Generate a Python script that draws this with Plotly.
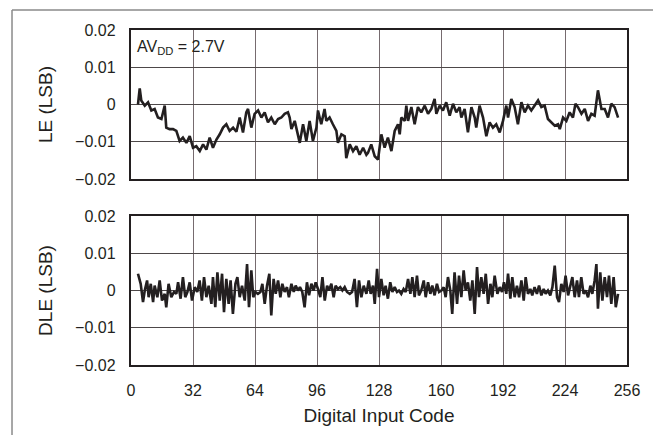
import plotly.graph_objects as go

# values in milli-LSB
LE_CODES = [
    3.6, 4.5, 5.3, 7.1, 8.8, 10.5, 12.2, 13.9, 15.7, 17.4, 18.2, 19.9, 21.7, 23.4, 25.1, 26.8,
    28.6, 30.3, 32.0, 33.7, 35.5, 37.2, 38.9, 40.6, 42.3, 44.1, 45.8, 47.5, 49.2, 50.9, 52.7, 54.4,
    56.1, 57.8, 59.5, 60.4, 62.1, 63.8, 65.6, 67.3, 69.0, 70.7, 72.4, 74.2, 75.9, 77.6, 79.3, 81.0,
    81.9, 82.8, 84.5, 86.2, 87.1, 88.8, 90.5, 92.2, 93.9, 95.7, 96.5, 98.2, 99.9, 100.8, 102.5, 104.2,
    106.0, 106.8, 108.6, 110.3, 111.1, 112.9, 114.6, 116.3, 118.0, 119.8, 121.5, 122.3, 124.0, 125.8,
    127.5, 128.3, 129.2, 130.9, 132.6, 134.4, 136.1, 137.8, 138.7, 139.5, 141.3, 142.1, 143.0, 144.7,
    146.4, 148.1, 149.8, 151.6, 153.3, 155.0, 156.7, 157.6, 159.3, 161.0, 162.7, 164.5, 166.2, 167.9,
    169.6, 170.5, 172.2, 173.9, 175.7, 177.4, 178.2, 179.9, 181.7, 183.4, 185.1, 186.8, 188.5, 190.3,
    192.0, 193.7, 194.6, 196.3, 198.0, 199.7, 201.5, 203.2, 204.9, 206.6, 208.4, 210.1, 211.8, 213.5,
    215.2, 217.0, 218.7, 220.4, 221.3, 223.0, 224.7, 226.4, 228.1, 229.4, 230.7, 232.5, 234.2, 235.9,
    237.6, 239.3, 241.0, 242.8, 244.5, 246.2, 247.9, 249.6, 251.4,
]
LE_MLSB = [
    0.0, 4.3, 1.1, -0.3, 0.6, -1.6, -1.2, -3.5, -3.9, -0.3, -6.2, -6.6, -6.6, -7.1, -9.8, -8.9,
    -10.3, -8.5, -11.6, -11.2, -12.5, -10.7, -12.1, -8.9, -11.6, -9.4, -8.0, -6.2, -5.3, -7.1, -6.2, -7.3,
    -3.5, -7.5, -2.1, -1.2, -6.2, -2.5, -1.6, -3.5, -2.1, -4.8, -3.5, -5.3, -3.9, -3.5, -2.5, -2.1,
    -3.5, -6.6, -4.4, -8.0, -10.3, -5.3, -9.8, -4.4, -9.8, -6.2, -1.6, -5.3, -1.2, -4.4, -3.5, -5.3,
    -7.1, -10.3, -8.0, -8.5, -14.4, -10.7, -12.5, -11.2, -13.5, -11.6, -13.5, -13.0, -10.7, -13.9,
    -14.8, -11.6, -8.0, -11.6, -8.9, -12.5, -7.1, -5.3, -8.0, -3.5, -4.4, -0.3, -4.4, -0.7,
    -5.3, -0.7, -2.1, -0.3, -2.5, -1.2, 1.5, -2.5, -0.3, -1.6, 0.6, -3.0, 0.2, -2.1,
    -0.7, -3.5, -1.2, -7.5, -0.7, -3.5, -6.2, -0.3, -3.5, -8.5, -4.8, -6.2, -5.3, -7.5,
    -4.4, -0.3, -3.5, 1.5, -0.7, -5.3, 0.6, -2.1, -0.3, -1.6, -0.3, 1.1, -0.7, -0.3,
    -3.9, -4.8, -5.7, -5.3, -6.6, -3.5, -4.4, -2.1, -3.5, 0.2, -0.7, -2.5, -1.2, -4.4,
    -2.5, -3.0, 3.8, -1.2, -1.2, -3.5, 0.2, -0.7, -3.5,
]

DLE_CODES = [
    3.6, 5.0, 6.2, 7.1, 8.3, 9.1, 10.2, 11.4, 12.2, 13.6, 14.8, 16.0, 17.4, 18.2, 19.4, 20.8,
    22.2, 23.4, 24.3, 25.6, 26.8, 28.0, 29.1, 30.3, 31.5, 32.9, 34.2, 35.4, 36.6, 37.7, 38.9, 40.1,
    41.5, 42.3, 43.5, 44.6, 45.8, 47.0, 48.0, 49.2, 50.4, 51.4, 52.6, 53.9,
    54.9, 56.1, 57.3, 58.7, 59.9, 60.9, 62.1, 63.1, 64.2, 65.5, 66.8, 67.8, 69.0, 70.2, 71.4, 72.4,
    73.6, 74.7, 75.9, 77.1, 78.1, 79.3, 80.5, 81.5, 82.8, 84.0, 85.0, 86.2, 87.2, 88.4, 89.6, 90.8,
    91.9, 93.1, 94.3, 95.3, 96.5, 97.7, 98.8, 100.0, 101.2, 102.2, 103.4, 104.6, 105.6, 106.8, 108.0,
    109.1, 110.3, 111.5, 112.9, 114.1, 115.4, 116.6, 117.7, 118.9, 120.1, 121.5,
    122.7, 123.7, 124.9, 125.8, 127.0, 128.0, 129.2, 130.4, 131.4, 132.6, 133.8, 134.9, 136.1, 137.3,
    138.3, 139.5, 140.7, 141.8, 143.0, 144.2, 145.2, 146.4, 147.6, 148.6, 149.8, 151.1, 152.1, 153.3,
    154.5, 155.5, 156.7, 157.9, 159.0, 160.2, 161.4, 162.4, 163.6, 164.8, 165.8, 167.0, 168.3, 169.3,
    170.5, 171.7, 172.7, 173.9, 175.1, 176.2, 177.4, 178.6, 179.6, 180.8, 182.0, 183.1, 184.3, 185.5,
    186.5, 187.7,
    189.1, 190.3, 191.5, 192.5, 193.7, 194.6, 195.8, 196.8, 198.0, 199.2, 200.3, 201.5, 202.7, 203.7,
    204.9, 206.1, 207.1, 208.3, 209.5, 210.6, 211.8, 213.0, 214.0, 215.2, 216.4, 217.5, 218.7, 219.9,
    220.9, 222.1, 223.3, 224.3, 225.6, 226.8, 227.8, 229.0, 230.2, 231.2, 232.4, 233.6, 234.7, 235.9,
    237.1, 238.1, 239.3, 240.2, 241.0, 242.2, 243.3, 244.5, 245.7, 246.7, 247.9, 249.1, 250.2, 251.4,
]
DLE_MLSB = [
    4.5, 1.8, -3.1, 0.0, 2.7, -1.8, 1.8, -3.1, 1.3, -1.8, 2.7, -2.7, -0.9, -4.5, 1.8, -1.8,
    -0.4, -0.9, 2.2, -2.2, 3.6, -1.8, -0.4, 2.2, -2.7, 0.9, -0.4, 2.7, -2.7, 3.6, -1.8, 1.3,
    -3.6, 3.6, -4.5, 4.9, -2.7, 4.5, -5.8, 3.1, -3.6, 2.7, -6.3, 1.8,
    3.6, -1.8, 1.3, -2.7, 7.1, -4.5, 5.4, -1.8, -0.4, -0.9, -0.4, 1.8, -3.6, 1.3, 4.5, -6.7,
    3.1, -0.9, 2.7, -1.8, 1.8, -0.4, 0.9, -1.8, 1.8, -0.4, 1.3, 0.0, 0.9, -0.4, -4.5, 2.2,
    -1.3, 1.8, 0.0, 2.2, 0.4, -1.8, 3.6, -2.7, 1.3, 0.0, 1.8, -1.8, 1.3, 0.4, 0.9,
    0.0, 0.9, -0.4, -0.9, -0.4, 3.1, -4.5, 2.7, -1.8, 1.3, -0.9,
    2.7, -0.9, 1.3, -3.6, 5.8, -1.8, 3.1, -1.3, 1.3, -2.2, 2.2, -0.4, 0.9, -0.4,
    0.0, -0.9, 0.4, -0.4, 3.1, -0.9, 3.6, -1.8, 4.0, -1.3, 0.0, 2.7, -1.8, 2.2,
    -0.9, 1.3, -1.3, 1.8, -0.4, 0.0, 0.9, -1.8, 3.6, 0.0, -6.3, 4.9, -3.6, 4.0,
    -1.8, 5.4, 0.0, 2.2, -2.7, 2.7, -6.3, 6.3, -1.8, 3.6, -0.9, 4.5, -3.6, 1.8,
    -1.8, 4.0,
    -0.9, 0.9, -0.4, 2.2, -0.9, 4.5, -2.2, 3.6, -1.8, 1.3, -1.8, 2.7, -2.7, 3.6,
    -0.9, 0.4, -1.3, 0.9, -0.9, 1.3, -1.3, 0.4, -0.9, 0.0, -1.3, 0.9, 6.7, -1.8,
    -3.1, 1.8, -0.4, 4.0, -1.3, 1.8, 3.6, -1.8, 2.7, -1.8, 3.6, -0.9, 0.0, -1.8,
    1.3, -0.9, 2.7, 7.1, -4.9, 4.9, -2.7, 3.6, -1.8, 4.0, -3.6, 3.6, -4.5, -0.9,
]

X_TICKS = [0, 32, 64, 96, 128, 160, 192, 224, 256]
Y_TICKS = [-0.02, -0.01, 0, 0.01, 0.02]

INK = "#231f20"
FONT = dict(family="Liberation Sans, Arial, sans-serif", size=16, color=INK)

le = [v / 1000 for v in LE_MLSB]
dle = [v / 1000 for v in DLE_MLSB]

fig = go.Figure()
fig.add_trace(go.Scatter(x=LE_CODES, y=le, mode="lines", xaxis="x", yaxis="y",
                         line=dict(color=INK, width=2.6), showlegend=False))
fig.add_trace(go.Scatter(x=DLE_CODES, y=dle, mode="lines", xaxis="x2", yaxis="y2",
                         line=dict(color=INK, width=2.6), showlegend=False))

x_common = dict(range=[0, 256], tickvals=X_TICKS, showgrid=True, gridcolor="#766b6f", gridwidth=1.2,
                showline=True, linecolor=INK, linewidth=2.4, mirror=True, ticks="", zeroline=False,
                ticklabelstandoff=10)
y_common = dict(range=[-0.02, 0.02], tickvals=Y_TICKS, showgrid=True, gridcolor="#4d4849", gridwidth=1,
                showline=True, linecolor=INK, linewidth=2.4, mirror=True, ticks="", zeroline=False,
                ticklabelstandoff=10, title_standoff=17)

fig.update_layout(
    width=661, height=435,
    margin=dict(l=123, r=42, t=22, b=78),
    paper_bgcolor="white", plot_bgcolor="white",
    font=FONT,
    xaxis=dict(x_common, anchor="y", domain=[0, 1], showticklabels=False),
    yaxis=dict(y_common, anchor="x", domain=[0.5552, 1], title_text="LE (LSB)"),
    xaxis2=dict(x_common, anchor="y2", domain=[0, 1], title_text="Digital Input Code", title_standoff=10),
    yaxis2=dict(y_common, anchor="x2", domain=[0, 0.4448], title_text="DLE (LSB)"),
    annotations=[dict(text="AV<sub>DD</sub> = 2.7V", xref="x", yref="y", x=2, y=0.02,
                      xanchor="left", yanchor="top", yshift=-6, showarrow=False, font=FONT)],
    shapes=[
        dict(type="line", xref="paper", yref="paper", x0=-0.2399, x1=1.09, y0=1.0597, y1=1.0597,
             line=dict(color="#8a8a8a", width=1.5)),
        dict(type="line", xref="paper", yref="paper", x0=-0.2399, x1=-0.2399, y0=-0.24, y1=1.0597,
             line=dict(color="#8a8a8a", width=1.5)),
    ],
)

fig.write_html("out.html")
